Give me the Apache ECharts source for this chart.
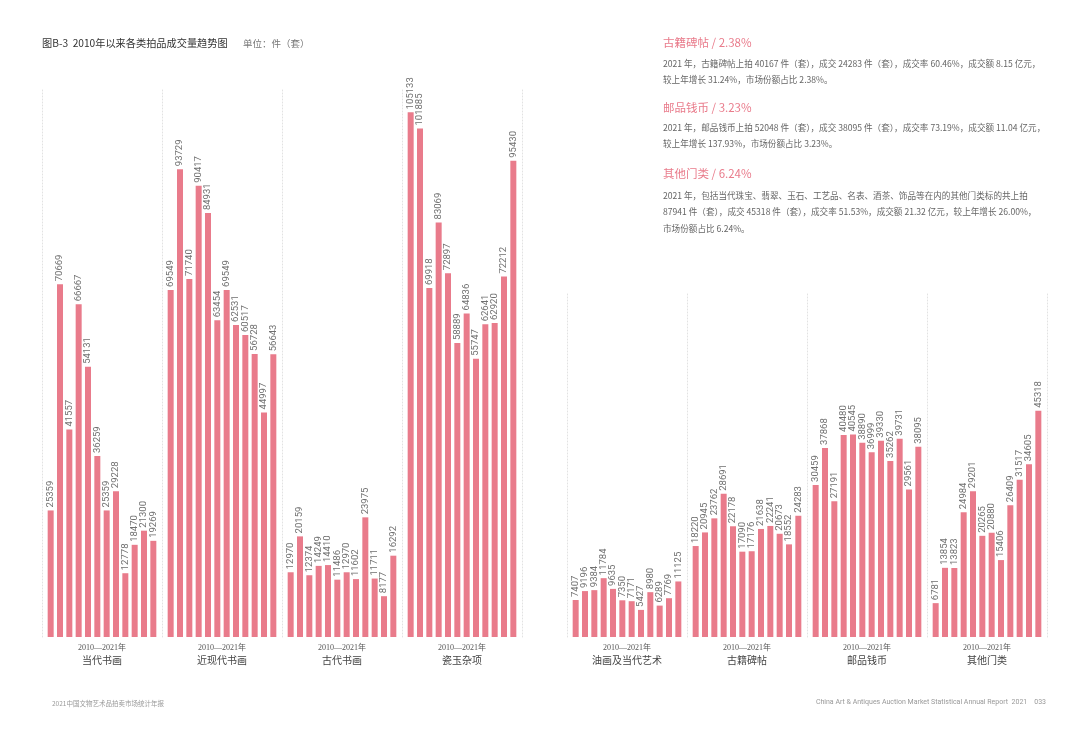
<!DOCTYPE html>
<html>
<head>
<meta charset="utf-8">
<script src="https://cdn.jsdelivr.net/npm/echarts@6/dist/echarts.min.js"></script>
<style>
  html, body { margin: 0; padding: 0; background: #fff; }
  #chart { width: 1080px; height: 733px; }
</style>
</head>
<body>
<div id="chart"></div>
<script>
// 2010-2021 成交量（件/套）
const years = ['2010', '2011', '2012', '2013', '2014', '2015', '2016', '2017', '2018', '2019', '2020', '2021']
const yearRange = '2010—2021年'
const contemporaryPainting = [25359, 70669, 41557, 66667, 54131, 36259, 25359, 29228, 12778, 18470, 21300, 19269]
const modernPainting = [69549, 93729, 71740, 90417, 84931, 63454, 69549, 62531, 60517, 56728, 44997, 56643]
const ancientPainting = [12970, 20159, 12374, 14249, 14410, 11486, 12970, 11602, 23975, 11711, 8177, 16292]
const porcelainJade = [105133, 101885, 69918, 83069, 72897, 58889, 64836, 55747, 62641, 62920, 72212, 95430]
const oilPainting = [7407, 9196, 9384, 11784, 9635, 7350, 7171, 5427, 8980, 6289, 7769, 11125]
const ancientBooks = [18220, 20945, 23762, 28691, 22178, 17090, 17176, 21638, 22241, 20673, 18552, 24283]
const stampsCoins = [30459, 37868, 27191, 40480, 40545, 38890, 36999, 39330, 35262, 39731, 29561, 38095]
const otherItems = [6781, 13854, 13823, 24984, 29201, 20265, 20880, 15406, 26409, 31517, 34605, 45318]

const leftNames = ['当代书画', '近现代书画', '古代书画', '瓷玉杂项']
const leftData = [contemporaryPainting, modernPainting, ancientPainting, porcelainJade]
const rightNames = ['油画及当代艺术', '古籍碑帖', '邮品钱币', '其他门类']
const rightData = [oilPainting, ancientBooks, stampsCoins, otherItems]

const barColor = '#e97b8b'
const sepLine = { show: true, lineStyle: { color: '#e2e2e2', type: [1, 2], width: 1 } }

const grid = []
const xAxis = []
const yAxis = []
const series = []

// one grid per category; left block is taller than right block, same scale
const addPanel = (names, data, left0, top, height, max) => {
  names.forEach((name, i) => {
    const g = grid.length
    grid.push({ left: left0 + 120 * i, top: top, width: 112, height: height })
    xAxis.push({
      type: 'category', gridIndex: g, data: years,
      axisLine: { show: false }, axisTick: { show: false }, axisLabel: { show: false },
      name: '{a|' + yearRange + '}\n{b|' + name + '}',
      nameLocation: 'middle', nameGap: 5,
      nameTextStyle: {
        rich: {
          a: { fontSize: 8, color: '#555', lineHeight: 11, fontFamily: 'Liberation Serif, Noto Sans CJK SC' },
          b: { fontSize: 10, color: '#444', lineHeight: 15, fontFamily: 'Noto Sans CJK SC' }
        }
      }
    })
    const yBase = {
      type: 'value', gridIndex: g, min: 0, max: max,
      axisLabel: { show: false }, axisTick: { show: false }, splitLine: { show: false },
      axisLine: sepLine, offset: 4
    }
    const yi = yAxis.length
    yAxis.push(yBase)
    if (i === names.length - 1) {
      yAxis.push(Object.assign({}, yBase, { position: 'right' }))
    }
    series.push({
      type: 'bar', xAxisIndex: g, yAxisIndex: yi, data: data[i],
      barWidth: 6, itemStyle: { color: barColor },
      label: {
        show: true, position: 'top', rotate: 90, align: 'left', verticalAlign: 'middle',
        distance: 3, fontSize: 9.5, color: '#707070', fontFamily: 'Roboto'
      }
    })
  })
}

addPanel(leftNames, leftData, 46, 88, 549, 110000)
addPanel(rightNames, rightData, 571, 294, 343, 68700)

const bodyStyle = { fontSize: 8.6, fill: '#666', lineHeight: 16.5, fontFamily: 'Noto Sans CJK SC' }
const headStyle = { fontSize: 11.5, fill: '#e97b8b', fontFamily: 'Noto Sans CJK SC' }

const graphic = [
  { type: 'text', left: 42, top: 38, style: { text: '图B-3  2010年以来各类拍品成交量趋势图', fontSize: 10.2, fill: '#333', fontFamily: 'Noto Sans CJK SC' } },
  { type: 'text', left: 243, top: 39, style: { text: '单位：件（套）', fontSize: 9.5, fill: '#777', fontFamily: 'Noto Sans CJK SC' } },
  { type: 'text', left: 663, top: 37, style: Object.assign({ text: '古籍碑帖 / 2.38%' }, headStyle) },
  { type: 'text', left: 663, top: 55, style: Object.assign({ text: '2021 年，古籍碑帖上拍 40167 件（套），成交 24283 件（套），成交率 60.46%，成交额 8.15 亿元，\n较上年增长 31.24%，市场份额占比 2.38%。' }, bodyStyle) },
  { type: 'text', left: 663, top: 102, style: Object.assign({ text: '邮品钱币 / 3.23%' }, headStyle) },
  { type: 'text', left: 663, top: 119, style: Object.assign({ text: '2021 年，邮品钱币上拍 52048 件（套），成交 38095 件（套），成交率 73.19%，成交额 11.04 亿元，\n较上年增长 137.93%，市场份额占比 3.23%。' }, bodyStyle) },
  { type: 'text', left: 663, top: 168, style: Object.assign({ text: '其他门类 / 6.24%' }, headStyle) },
  { type: 'text', left: 663, top: 187, style: Object.assign({ text: '2021 年，包括当代珠宝、翡翠、玉石、工艺品、名表、酒茶、饰品等在内的其他门类标的共上拍\n87941 件（套），成交 45318 件（套），成交率 51.53%，成交额 21.32 亿元，较上年增长 26.00%，\n市场份额占比 6.24%。' }, bodyStyle) },
  { type: 'text', left: 52, top: 700, style: { text: '2021中国文物艺术品拍卖市场统计年报', fontSize: 6.5, fill: '#999', fontFamily: 'Noto Sans CJK SC' } },
  { type: 'text', right: 34, top: 699, style: { text: 'China Art & Antiques Auction Market Statistical Annual Report  2021    033', fontSize: 7, fill: '#999', fontFamily: 'Roboto' } }
]

const chart = echarts.init(document.getElementById('chart'))
chart.setOption({
  backgroundColor: '#fff',
  animation: false,
  grid, xAxis, yAxis, series, graphic
})
window.addEventListener('resize', () => chart.resize())
</script>
</body>
</html>
